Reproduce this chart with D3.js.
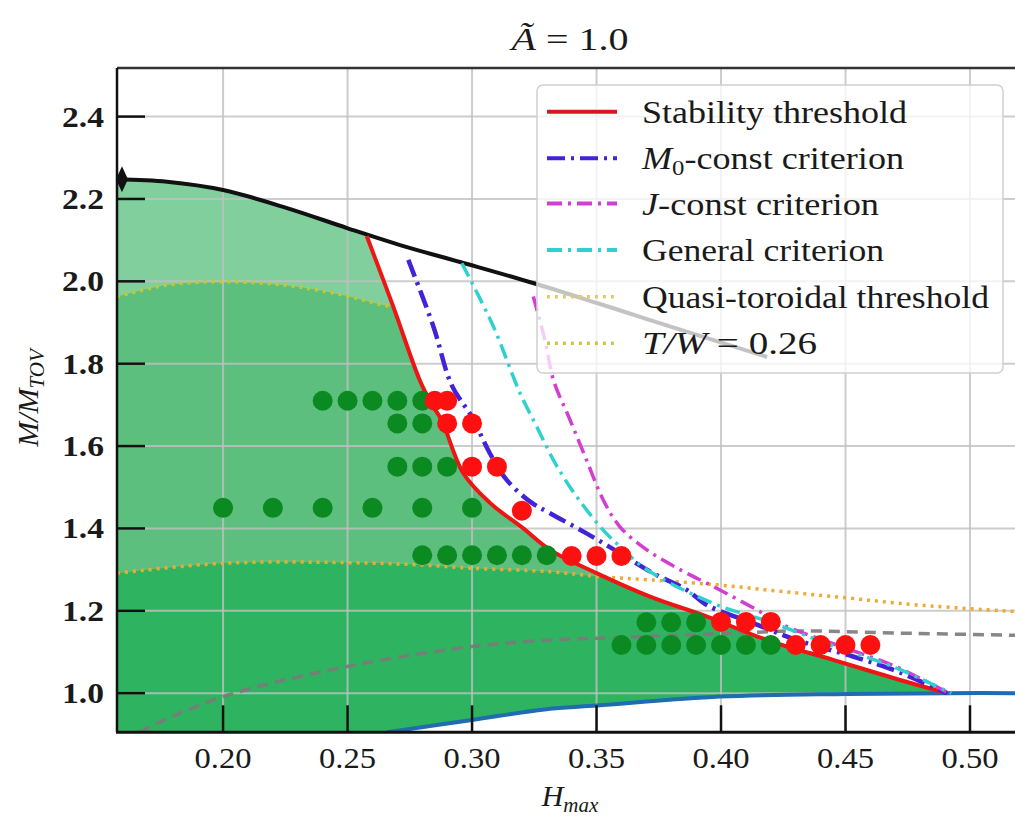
<!DOCTYPE html>
<html><head><meta charset="utf-8">
<script src="https://cdn.jsdelivr.net/npm/d3@7"></script>
<style>body{margin:0;background:#fff;} svg{display:block;}</style>
</head><body>
<svg id="chart" width="1015" height="816" font-family="'Liberation Serif', 'DejaVu Serif', serif"></svg>
<script>
// ---------- data ----------
const xTickVals = [0.20, 0.25, 0.30, 0.35, 0.40, 0.45, 0.50];
const xTickLabels = ["0.20", "0.25", "0.30", "0.35", "0.40", "0.45", "0.50"];
const yTickVals = [1.0, 1.2, 1.4, 1.6, 1.8, 2.0, 2.2, 2.4];
const yTickLabels = ["1.0", "1.2", "1.4", "1.6", "1.8", "2.0", "2.2", "2.4"];

// upper boundary (black)
const blackH = [0.1574, 0.1775, 0.2000, 0.2257, 0.2498, 0.2711, 0.2952, 0.3245, 0.3514, 0.3715, 0.4185];
const blackM = [2.2476, 2.2417, 2.2216, 2.1779, 2.1294, 2.0881, 2.0469, 1.9959, 1.945, 1.906, 1.8163];
// lower boundary (blue)
const blueH = [0.2659, 0.3000, 0.3313, 0.3502, 0.3996, 0.4506, 0.4908, 0.5245];
const blueM = [0.905, 0.935, 0.962, 0.970, 0.9917, 0.998, 1.000, 1.000];
// stability threshold (red)
const redH = [0.2577, 0.2684, 0.2790, 0.2840, 0.2878, 0.2965, 0.3072, 0.3206, 0.3313, 0.3502, 0.3715, 0.3944, 0.4185, 0.4450, 0.4719, 0.4908];
const redM = [2.110, 1.938, 1.760, 1.700, 1.663, 1.534, 1.462, 1.400, 1.348, 1.291, 1.2345, 1.186, 1.129, 1.081, 1.032, 1.000];
// M0-const criterion
const m0H = [0.2744, 0.2845, 0.2918, 0.2999, 0.3072, 0.3139, 0.3233, 0.3313, 0.3460, 0.3594, 0.3728, 0.3862, 0.3943, 0.4129, 0.4304, 0.4530, 0.4690, 0.4908];
const m0M = [2.052, 1.890, 1.748, 1.671, 1.582, 1.518, 1.465, 1.437, 1.388, 1.340, 1.291, 1.251, 1.214, 1.170, 1.129, 1.089, 1.057, 1.000];
// J-const criterion
const jH = [0.3246, 0.3293, 0.3327, 0.3394, 0.3460, 0.3527, 0.3594, 0.3702, 0.3835, 0.3969, 0.4145, 0.4249, 0.4450, 0.4700, 0.4915];
const jM = [1.963, 1.857, 1.760, 1.663, 1.566, 1.469, 1.404, 1.348, 1.300, 1.259, 1.202, 1.166, 1.120, 1.065, 1.000];
// General criterion
const genH = [0.2959, 0.3086, 0.3193, 0.3260, 0.3327, 0.3394, 0.3460, 0.3527, 0.3594, 0.3702, 0.3969, 0.4200, 0.4450, 0.4700, 0.4925];
const genM = [2.044, 1.890, 1.728, 1.647, 1.566, 1.500, 1.445, 1.396, 1.356, 1.300, 1.218, 1.172, 1.115, 1.062, 1.000];
// Quasi-toroidal threshold (orange dotted)
const qtH = [0.1574, 0.2000, 0.2498, 0.2791, 0.3000, 0.3313, 0.3514, 0.3715, 0.3984, 0.4249, 0.4518, 0.4787, 0.5245];
const qtM = [1.2913, 1.3155, 1.3170, 1.3114, 1.3034, 1.2950, 1.2830, 1.2750, 1.2630, 1.2466, 1.2306, 1.2143, 1.1960];
// T/W = 0.26 (olive dotted)
const twH = [0.1574, 0.1775, 0.2000, 0.2241, 0.2442, 0.2643, 0.2684];
const twM = [1.9626, 1.9910, 1.9990, 1.9910, 1.9716, 1.9425, 1.9380];
// gray dashed line
const grayH = [0.1667, 0.1695, 0.2000, 0.2498, 0.3000, 0.3313, 0.3514, 0.4048, 0.4317, 0.4700, 0.5245];
const grayM = [0.905, 0.915, 0.9917, 1.0646, 1.1131, 1.1294, 1.1335, 1.1456, 1.1512, 1.146, 1.140];
// diamond marker
const markerH = [0.1594];
const markerM = [2.2476];
// simulation points
const greenH = [0.24, 0.25, 0.26, 0.27, 0.28,
                0.27, 0.28,
                0.27, 0.28, 0.29,
                0.20, 0.22, 0.24, 0.26, 0.28, 0.30,
                0.28, 0.29, 0.30, 0.31, 0.32, 0.33,
                0.37, 0.38, 0.39,
                0.36, 0.37, 0.38, 0.39, 0.40, 0.41, 0.42];
const greenM = [1.71, 1.71, 1.71, 1.71, 1.71,
                1.655, 1.655,
                1.55, 1.55, 1.55,
                1.45, 1.45, 1.45, 1.45, 1.45, 1.45,
                1.335, 1.335, 1.335, 1.335, 1.335, 1.335,
                1.172, 1.172, 1.172,
                1.117, 1.117, 1.117, 1.117, 1.117, 1.117, 1.117];
const redDotH = [0.285, 0.29, 0.29, 0.30, 0.30, 0.31, 0.32, 0.34, 0.35, 0.36, 0.40, 0.41, 0.42, 0.43, 0.44, 0.45, 0.46];
const redDotM = [1.71, 1.71, 1.655, 1.655, 1.55, 1.55, 1.443, 1.333, 1.333, 1.333, 1.173, 1.173, 1.173, 1.117, 1.117, 1.117, 1.117];

const legendLabels = ["Stability threshold", "M0-const criterion", "J-const criterion", "General criterion", "Quasi-toroidal threshold", "T/W = 0.26"];

// ---------- setup ----------
const svg = d3.select("#chart");
const x = d3.scaleLinear().domain([0.1574, 0.5245]).range([117, 1031]);
const y = d3.scaleLinear().domain([0.905, 2.518]).range([732.3, 68]);
const zip = (a, b) => a.map((v, i) => [v, b[i]]);
const line = d3.line().x(d => x(d[0])).y(d => y(d[1])).curve(d3.curveCatmullRom.alpha(0.5));

const [x0, x1] = x.domain();
const [y0, y1] = y.domain();

const defs = svg.append("defs");
defs.append("clipPath").attr("id", "plotClip").append("rect")
  .attr("x", x(x0)).attr("y", y(y1)).attr("width", x(x1) - x(x0)).attr("height", y(y0) - y(y1));

// stable region clip
const blackPts = zip(blackH, blackM);
const redPts = zip(redH, redM);
const bluePts = zip(blueH, blueM);
const pBlack = line(blackPts.filter(d => d[0] < redH[0]).concat([[redH[0], 2.114]]));
const pRed = line(redPts).replace(/^M/, "L");
const pBlue = line(bluePts.filter(d => d[0] < redH[redH.length - 1]).reverse()).replace(/^M/, "L");
const stablePath = pBlack + pRed + pBlue + `L${x(x0)},${y(y0)}Z`;
defs.append("clipPath").attr("id", "stableClip").append("path").attr("d", stablePath);

// ---------- fills ----------
const fills = svg.append("g").attr("clip-path", "url(#stableClip)");
fills.append("rect").attr("x", x(x0)).attr("y", y(y1)).attr("width", x(x1) - x(x0)).attr("height", y(y0) - y(y1)).attr("fill", "#80cf9c");
const twPts = zip(twH, twM);
const twArea = line(twPts) + `L${x(x1)},${y(twM[twM.length - 1])}L${x(x1)},${y(y0)}L${x(x0)},${y(y0)}Z`;
fills.append("path").attr("d", twArea).attr("fill", "#5cbf7e");
const qtPts = zip(qtH, qtM);
const qtArea = line(qtPts) + `L${x(x1)},${y(y0)}L${x(x0)},${y(y0)}Z`;
fills.append("path").attr("d", qtArea).attr("fill", "#2eb461");

// ---------- grid ----------
const grid = svg.append("g").attr("clip-path", "url(#plotClip)");
grid.selectAll(".gx").data(xTickVals).join("line")
  .attr("x1", d => x(d)).attr("x2", d => x(d)).attr("y1", y(y0)).attr("y2", y(y1))
  .attr("stroke", "#c0c0c0").attr("stroke-opacity", 0.8).attr("stroke-width", 2);
grid.selectAll(".gy").data(yTickVals).join("line")
  .attr("y1", d => y(d)).attr("y2", d => y(d)).attr("x1", x(x0)).attr("x2", x(x1))
  .attr("stroke", "#c0c0c0").attr("stroke-opacity", 0.8).attr("stroke-width", 2);

// ---------- lines ----------
const lines = svg.append("g").attr("clip-path", "url(#plotClip)").attr("fill", "none");
lines.append("path").attr("d", line(zip(grayH, grayM))).attr("stroke", "#7a7a7a").attr("stroke-opacity", 0.9).attr("stroke-width", 3.5).attr("stroke-dasharray", "11,7");
lines.append("path").attr("d", line(qtPts)).attr("stroke", "#f0aa30").attr("stroke-width", 3.5).attr("stroke-dasharray", "3,5");
lines.append("path").attr("d", line(twPts)).attr("stroke", "#c8c82a").attr("stroke-width", 3.5).attr("stroke-dasharray", "3,5");
lines.append("path").attr("d", line(bluePts)).attr("stroke", "#1f6db0").attr("stroke-width", 4);
lines.append("path").attr("d", line(blackPts)).attr("stroke", "#111").attr("stroke-width", 4);
lines.append("path").attr("d", line(redPts)).attr("stroke", "#ee1515").attr("stroke-width", 4);
lines.append("path").attr("d", line(zip(m0H, m0M))).attr("stroke", "#4322d8").attr("stroke-width", 4.5).attr("stroke-dasharray", "18,6,3,6");
lines.append("path").attr("d", line(zip(jH, jM))).attr("stroke", "#d23ed2").attr("stroke-width", 3.5).attr("stroke-dasharray", "15,6,3,6");
lines.append("path").attr("d", line(zip(genH, genM))).attr("stroke", "#2fd0d0").attr("stroke-width", 3.5).attr("stroke-dasharray", "15,6,3,6");

// dots
const dots = svg.append("g").attr("clip-path", "url(#plotClip)");
dots.selectAll(".g").data(zip(greenH, greenM)).join("circle")
  .attr("cx", d => x(d[0])).attr("cy", d => y(d[1])).attr("r", 10).attr("fill", "#0b8a22");
dots.selectAll(".r").data(zip(redDotH, redDotM)).join("circle")
  .attr("cx", d => x(d[0])).attr("cy", d => y(d[1])).attr("r", 10).attr("fill", "#ff1010");
svg.selectAll(".mk").data(zip(markerH, markerM)).join("path")
  .attr("transform", d => `translate(${x(d[0])},${y(d[1])})`)
  .attr("d", "M0,-13L6,0L0,13L-6,0Z").attr("fill", "#111");

// ---------- axes ----------
const ax = svg.append("g");
ax.append("line").attr("x1", x(x0)).attr("x2", 1015).attr("y1", y(y1)).attr("y2", y(y1)).attr("stroke", "#333").attr("stroke-width", 2.5);
ax.append("line").attr("x1", x(x0)).attr("x2", x(x0)).attr("y1", y(y1)).attr("y2", y(y0)).attr("stroke", "#111").attr("stroke-width", 2.5);
ax.append("line").attr("x1", x(x0) - 1).attr("x2", 1015).attr("y1", y(y0)).attr("y2", y(y0)).attr("stroke", "#111").attr("stroke-width", 3);
ax.selectAll(".tx").data(xTickVals).join("line")
  .attr("x1", d => x(d)).attr("x2", d => x(d)).attr("y1", y(y0)).attr("y2", y(y0) - 27)
  .attr("stroke", "#111").attr("stroke-width", 2.5);
ax.selectAll(".ty").data(yTickVals).join("line")
  .attr("x1", x(x0)).attr("x2", x(x0) + 28).attr("y1", d => y(d)).attr("y2", d => y(d))
  .attr("stroke", "#111").attr("stroke-width", 2.5);
ax.selectAll(".lx").data(xTickVals).join("text")
  .attr("x", d => x(d)).attr("y", 768).attr("text-anchor", "middle").attr("fill", "#1a1a1a")
  .attr("font-size", 30).attr("textLength", 57).attr("lengthAdjust", "spacingAndGlyphs")
  .text((d, i) => xTickLabels[i]);
ax.selectAll(".ly").data(yTickVals).join("text")
  .attr("x", 104).attr("y", d => y(d) + 10).attr("text-anchor", "end").attr("fill", "#1a1a1a")
  .attr("font-size", 29).attr("font-weight", "bold").attr("textLength", 42).attr("lengthAdjust", "spacingAndGlyphs")
  .text((d, i) => yTickLabels[i]);

// axis labels
const xl = svg.append("text").attr("x", 570).attr("y", 806).attr("text-anchor", "middle").attr("font-size", 30).attr("fill", "#1a1a1a");
xl.append("tspan").attr("font-style", "italic").text("H");
xl.append("tspan").attr("font-style", "italic").attr("font-size", 21).attr("dy", 6).text("max");
const yl = svg.append("text").attr("transform", "translate(38,398) rotate(-90)").attr("text-anchor", "middle").attr("font-size", 30).attr("fill", "#1a1a1a");
yl.append("tspan").attr("font-style", "italic").text("M/M");
yl.append("tspan").attr("font-style", "italic").attr("font-size", 21).attr("dy", 6).text("TOV");

// title
const tt = svg.append("text").attr("x", 570).attr("y", 50).attr("text-anchor", "middle").attr("font-size", 32).attr("fill", "#1a1a1a")
  .attr("textLength", 117).attr("lengthAdjust", "spacingAndGlyphs");
tt.append("tspan").attr("font-style", "italic").text("\u00C3");
tt.append("tspan").text(" = 1.0");

// ---------- legend ----------
const lg = svg.append("g");
lg.append("rect").attr("x", 537).attr("y", 85).attr("width", 466).attr("height", 288).attr("rx", 6)
  .attr("fill", "#fff").attr("fill-opacity", 0.75).attr("stroke", "#d0d0d0").attr("stroke-width", 1.5);
const legStyles = [
  {c: "#d81820", w: 4, dash: null},
  {c: "#4322d8", w: 4, dash: "18,6,3,6"},
  {c: "#d23ed2", w: 4, dash: "15,6,3,6"},
  {c: "#2fd0d0", w: 4, dash: "15,6,3,6"},
  {c: "#eac86a", w: 3.5, dash: "3,5"},
  {c: "#c8c84a", w: 3.5, dash: "3,5"}
];
const legY = [111.7, 158.3, 203.5, 250, 296.7, 343.3];
const legW = [265, 262, 237, 242, 347, 175];
legendLabels.forEach((lab, i) => {
  const s = legStyles[i];
  const l = lg.append("line").attr("x1", 547).attr("x2", 617).attr("y1", legY[i]).attr("y2", legY[i])
    .attr("stroke", s.c).attr("stroke-width", s.w);
  if (s.dash) l.attr("stroke-dasharray", s.dash);
  const t = lg.append("text").attr("x", 642).attr("y", legY[i] + 11).attr("font-size", 32).attr("fill", "#1a1a1a")
    .attr("textLength", legW[i]).attr("lengthAdjust", "spacingAndGlyphs");
  if (i === 1) {
    t.append("tspan").attr("font-style", "italic").text("M");
    t.append("tspan").attr("font-size", 22).attr("dy", 6).text("0");
    t.append("tspan").attr("dy", -6).text("-const criterion");
  } else if (i === 2) {
    t.append("tspan").attr("font-style", "italic").text("J");
    t.append("tspan").text("-const criterion");
  } else if (i === 5) {
    t.append("tspan").attr("font-style", "italic").text("T/W");
    t.append("tspan").text(" = 0.26");
  } else {
    t.text(lab);
  }
});
</script>
</body></html>
